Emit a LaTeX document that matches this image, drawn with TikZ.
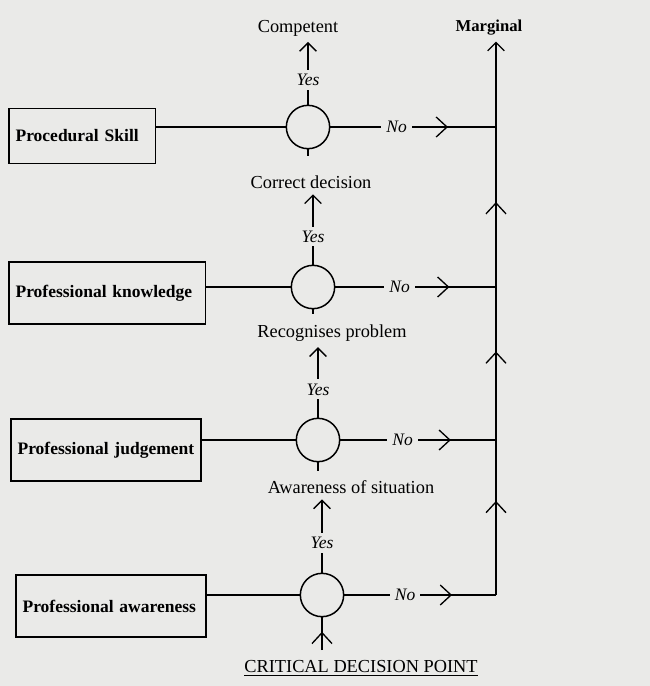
\documentclass[tikz,border=0pt]{standalone}
\usepackage{fontspec}
\setmainfont{Liberation Serif}
\usetikzlibrary{arrows.meta}
\usetikzlibrary{decorations.markings}
\definecolor{paper}{RGB}{234,234,232}

\tikzset{
  wire/.style={line width=0.8pt},
  skillbox/.style={draw, line width=1.1pt, anchor=west, align=left, inner xsep=4pt,
    minimum height=37pt, font=\fontsize{10.5}{12}\selectfont\bfseries},
  crossing/.style={draw, circle, line width=0.9pt, minimum size=26pt, inner sep=0pt},
  outcome/.style={font=\fontsize{11}{13}\selectfont},
  yesnote/.style={fill=paper, inner sep=2.5pt, font=\fontsize{10.5}{12}\selectfont\itshape},
  nonote/.style={fill=paper, inner sep=3pt, font=\fontsize{10.5}{12}\selectfont\itshape},
  barb/.style={-{Straight Barb[length=5pt,width=10pt]}},
  midtip/.style={postaction={decorate, decoration={markings,
    mark=at position #1 with {\arrow{Straight Barb[length=6.5pt,width=12pt]}}}}},
}

\begin{document}
\begin{tikzpicture}[x=0.6pt, y=-0.6pt]
  \path [use as bounding box, fill=paper] (0,0) rectangle (650,686);

  % the four areas of competence
  \node [skillbox, text width=80pt, minimum height=33pt] (b1) at (8,136) {Procedural Skill};
  \node [skillbox, text width=110pt] (b2) at (8,293) {Professional knowledge};
  \node [skillbox, text width=106pt] (b3) at (10,450) {Professional judgement};
  \node [skillbox, text width=106pt] (b4) at (15,606) {Professional awareness};

  % decision points
  \node [crossing] (c1) at (308,127) {};
  \node [crossing] (c2) at (313,287) {};
  \node [crossing] (c3) at (318,440) {};
  \node [crossing] (c4) at (322,595) {};

  \node [outcome] (ok)   at (298,28)  {Competent};
  \node [outcome] (cd)   at (311,182) {Correct decision};
  \node [outcome] (rp)   at (332,333) {Recognises problem};
  \node [outcome] (aw)   at (351,487) {Awareness of situation};
  \node [outcome, font=\fontsize{10}{12}\selectfont\bfseries] (marg) at (489,28) {Marginal};
  \node [outcome] (crit) at (361,668) {\underline{CRITICAL DECISION POINT}};

  \coordinate (rail) at (496,686);
  \coordinate (entry) at (322,650);

  \foreach \i in {1,...,4}
    \draw [wire] (b\i.east |- c\i.west) -- (c\i.west);

  % yes: up to the next stage
  \draw [wire, barb] (c1.north) -- node[yesnote, pos=0.4] {Yes} (c1.north |- ok.south);
  \draw [wire, barb] (c2.north) -- node[yesnote, pos=0.4] {Yes} (c2.north |- cd.south);
  \draw [wire, barb] (c3.north) -- node[yesnote, pos=0.4] {Yes} (c3.north |- rp.south);
  \draw [wire, barb] (c4.north) -- node[yesnote, pos=0.4] {Yes} (c4.north |- aw.south);

  \draw [wire, shorten >=8pt] (c1.south) -- (c1.south |- cd.north);
  \draw [wire, shorten >=3pt] (c2.south) -- (c2.south |- rp.north);
  \draw [wire, shorten >=2pt] (c3.south) -- (c3.south |- aw.north);

  % no: out to marginal
  \foreach \i in {1,...,4}
    \draw [wire, midtip=0.71] (c\i.east) -- node[nonote, pos=0.4] {No} (c\i.east -| rail);
  \draw [wire, barb, midtip=0.17, midtip=0.44, midtip=0.71] (c4.east -| rail) -- (rail |- marg.south);

  \draw [wire, midtip=0.56] (entry) -- (c4.south);
\end{tikzpicture}
\end{document}
